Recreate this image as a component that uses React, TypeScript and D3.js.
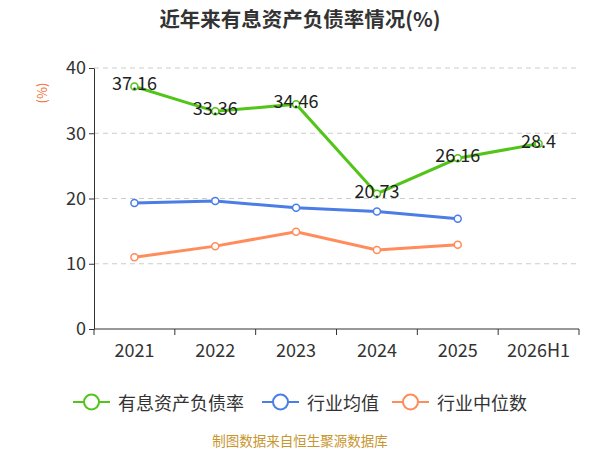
import { useEffect, useRef } from "react";
import * as d3 from "d3";

const years = ["2021", "2022", "2023", "2024", "2025", "2026H1"];
const debtRatio = [37.16, 33.36, 34.46, 20.73, 26.16, 28.4];
const industryAvg = [19.3, 19.6, 18.6, 18.0, 16.9];
const industryMedian = [11.0, 12.7, 14.9, 12.1, 12.9];
const yTicks = [0, 10, 20, 30, 40];

const series = [
  { name: "有息资产负债率", values: debtRatio, color: "#52c41a" },
  { name: "行业均值", values: industryAvg, color: "#4a7ee6" },
  { name: "行业中位数", values: industryMedian, color: "#ff8c5a" },
];

const FONT = "'Microsoft YaHei', 'Noto Sans CJK SC', sans-serif";

export default function App() {
  const svgRef = useRef<SVGSVGElement | null>(null);

  useEffect(() => {
    const svg = d3.select(svgRef.current);
    svg.selectAll("*").remove();

    const W = 600;
    const H = 450;
    const margin = { top: 68, right: 21, bottom: 121, left: 94 };
    const w = W - margin.left - margin.right;
    const h = H - margin.top - margin.bottom;

    svg.attr("viewBox", `0 0 ${W} ${H}`).style("font-family", FONT);

    svg
      .append("text")
      .attr("x", W / 2)
      .attr("y", 27)
      .attr("text-anchor", "middle")
      .attr("font-size", 20.5)
      .attr("font-weight", "bold")
      .attr("fill", "#333")
      .text("近年来有息资产负债率情况(%)");

    svg
      .append("text")
      .attr("transform", `translate(47,93) rotate(-90)`)
      .attr("text-anchor", "middle")
      .attr("font-size", 13)
      .attr("fill", "#f26b30")
      .text("(%)");

    const g = svg.append("g").attr("transform", `translate(${margin.left},${margin.top})`);

    const x = d3.scaleBand<string>().domain(years).range([0, w]);
    const y = d3.scaleLinear().domain([0, 40]).range([h, 0]);
    const cx = (i: number) => x(years[i])! + x.bandwidth() / 2;

    // grid
    g.append("g")
      .selectAll("line")
      .data(yTicks.filter((t) => t > 0))
      .join("line")
      .attr("x1", 0)
      .attr("x2", w)
      .attr("y1", (d) => y(d))
      .attr("y2", (d) => y(d))
      .attr("stroke", "#ccc")
      .attr("stroke-dasharray", "5 4");

    // y axis
    const ya = g.append("g").call(d3.axisLeft(y).tickValues(yTicks).tickSize(5).tickSizeOuter(0));
    ya.select(".domain").attr("stroke", "#333");
    ya.selectAll(".tick line").attr("stroke", "#333");
    ya.selectAll(".tick text")
      .attr("font-size", 18)
      .attr("fill", "#333")
      .attr("font-family", FONT)
      .attr("x", -8);

    // x axis with ticks on band boundaries
    const xa = g.append("g").attr("transform", `translate(0,${h})`);
    xa.append("line").attr("x1", 0).attr("x2", w).attr("stroke", "#333");
    xa.selectAll("line.tk")
      .data(d3.range(years.length + 1))
      .join("line")
      .attr("class", "tk")
      .attr("x1", (i) => i * x.step())
      .attr("x2", (i) => i * x.step())
      .attr("y1", 0)
      .attr("y2", 6)
      .attr("stroke", "#333");
    xa.selectAll("text")
      .data(years)
      .join("text")
      .attr("x", (_, i) => cx(i))
      .attr("y", 28)
      .attr("text-anchor", "middle")
      .attr("font-size", 18)
      .attr("fill", "#333")
      .text((d) => d);

    const line = d3
      .line<number>()
      .x((_, i) => cx(i))
      .y((d) => y(d));

    series.forEach((s) => {
      g.append("path")
        .datum(s.values)
        .attr("d", line)
        .attr("fill", "none")
        .attr("stroke", s.color)
        .attr("stroke-width", 3);
      g.append("g")
        .selectAll("circle")
        .data(s.values)
        .join("circle")
        .attr("cx", (_, i) => cx(i))
        .attr("cy", (d) => y(d))
        .attr("r", 3.5)
        .attr("fill", "#fff")
        .attr("stroke", s.color)
        .attr("stroke-width", 1.5);
    });

    // labels on main series
    g.append("g")
      .selectAll("text")
      .data(debtRatio)
      .join("text")
      .attr("x", (_, i) => cx(i))
      .attr("y", (d) => y(d) - 1)
      .attr("text-anchor", "middle")
      .attr("dominant-baseline", "middle")
      .attr("font-size", 18)
      .attr("fill", "#222")
      .text((d) => String(d));

    // legend
    const legendX = [73, 262, 392];
    const lg = svg.append("g").attr("transform", "translate(0,402)");
    series.forEach((s, i) => {
      const item = lg.append("g").attr("transform", `translate(${legendX[i]},0)`);
      item.append("line").attr("x1", 0).attr("x2", 37).attr("stroke", s.color).attr("stroke-width", 2);
      item
        .append("circle")
        .attr("cx", 18.5)
        .attr("r", 7.5)
        .attr("fill", "#fff")
        .attr("stroke", s.color)
        .attr("stroke-width", 2);
      item
        .append("text")
        .attr("x", 45)
        .attr("y", 0)
        .attr("dominant-baseline", "central")
        .attr("font-size", 18)
        .attr("fill", "#333")
        .text(s.name);
    });

    svg
      .append("text")
      .attr("x", W / 2)
      .attr("y", 446)
      .attr("text-anchor", "middle")
      .attr("font-size", 13.5)
      .attr("fill", "#c8962e")
      .text("制图数据来自恒生聚源数据库");
  }, []);

  return (
    <svg
      ref={svgRef}
      width={600}
      height={450}
      style={{ position: "absolute", left: 0, top: 0, display: "block" }}
    />
  );
}
